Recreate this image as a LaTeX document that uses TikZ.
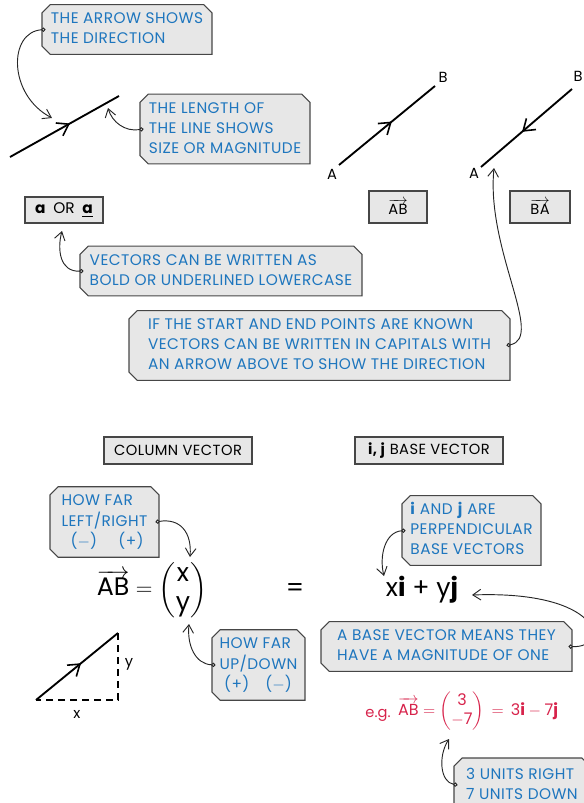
\documentclass[tikz,border=0pt]{standalone}
\usepackage{fontspec}
\usepackage{amsmath}
\setmainfont{Poppins}
\newfontfamily\notefont{Poppins}[LetterSpace=3]
\usetikzlibrary{arrows.meta,shapes.misc,decorations.markings}

\definecolor{noteblue}{RGB}{30,118,190}
\definecolor{tagfill}{RGB}{231,231,231}
\definecolor{tagline}{RGB}{70,70,70}
\definecolor{egred}{RGB}{215,35,75}

\newcommand{\arrowvec}[1]{$\overrightarrow{\hbox{#1}}$}
\newcommand{\notelines}[1]{\begin{tabular}{@{}l@{}}#1\end{tabular}}

\tikzset{
    note/.style={chamfered rectangle, chamfered rectangle corners={north west,south west,north east},
        chamfered rectangle xsep=2.5pt, draw=tagline, fill=tagfill, line width=0.8pt,
        inner sep=0pt, text=noteblue, font=\notefont\fontsize{11.5}{15}\selectfont},
    tagbox/.style={rectangle, draw=tagline, fill=tagfill, line width=0.8pt, inner sep=0pt,
        font=\notefont\fontsize{11}{12}\selectfont},
    conn/.style={line width=0.7pt, black!85,
        arrows={Circle[length=3.2pt,fill=tagfill]-Straight Barb[length=6pt,width=8pt]}},
    vecline/.style={line width=1.4pt, postaction={decorate},
        decoration={markings, mark=at position 0.55 with {\arrow{Straight Barb[length=8pt,width=11pt,line width=1.2pt]}}}},
    ptlabel/.style={inner sep=0pt, font=\fontsize{11}{13}\selectfont}
}

\begin{document}
\begin{tikzpicture}[x=0.75pt,y=-0.75pt]
    \useasboundingbox (0,0) rectangle (583,803);

    % top: one vector and its two notes
    \coordinate (s0) at (10,157);
    \coordinate (s1) at (119,96);
    \draw[vecline] (s0) -- (s1);
    \node[note, minimum width=127.5pt, minimum height=33.75pt] (dirnote) at (127,29.5)
        {\notelines{THE ARROW SHOWS\\THE DIRECTION}};
    \node[note, minimum width=127.5pt, minimum height=48pt] (lennote) at (225,129)
        {\notelines{THE LENGTH OF\\THE LINE SHOWS\\SIZE OR MAGNITUDE}};
    \coordinate (dirtip) at (52,118);
    \coordinate (lentip) at (108,108);
    \draw[conn] ([xshift=3pt]dirnote.west) .. controls (8,32) and (8,95) .. (dirtip);
    \draw[conn] ([xshift=3pt]lennote.west) .. controls (125,132) and (112,122) .. (lentip);

    % AB and BA
    \node[ptlabel] (abA) at (332,174) {A};
    \node[ptlabel] (abB) at (443,77) {B};
    \coordinate (ab0) at (339,165);
    \coordinate (ab1) at (435,86);
    \draw[vecline] (ab0) -- (ab1);
    \node[ptlabel] (baA) at (474,173) {A};
    \node[ptlabel] (baB) at (578,76) {B};
    \coordinate (ba0) at (572,89);
    \coordinate (ba1) at (481,167);
    \draw[vecline] (ba0) -- (ba1);
    \node[tagbox, minimum width=43.5pt, minimum height=24pt] (abbox) at (398,207) {\arrowvec{AB}};
    \node[tagbox, minimum width=45pt, minimum height=24pt] (babox) at (540,207) {\arrowvec{BA}};

    % lowercase
    \node[tagbox, minimum width=58.5pt, minimum height=19.5pt, font=\fontsize{11.5}{13}\selectfont] (lowbox)
        at (64,210) {\textbf{a}\enspace OR\enspace\underline{\textbf{a}}};
    \node[note, minimum width=211.5pt, minimum height=31.5pt] (lownote) at (221,271)
        {\notelines{VECTORS CAN BE WRITTEN AS\\BOLD OR UNDERLINED LOWERCASE}};
    \coordinate (lowtip) at (62,231);
    \draw[conn] ([xshift=3pt]lownote.west) .. controls (60,272) and (57,250) .. (lowtip);

    \node[note, minimum width=285.75pt, minimum height=48.75pt] (capnote) at (319.5,345.5)
        {\notelines{IF THE START AND END POINTS ARE KNOWN\\VECTORS CAN BE WRITTEN IN CAPITALS WITH\\AN ARROW ABOVE TO SHOW THE DIRECTION}};
    \coordinate (captip) at (494,168);
    \draw[conn] ([xshift=-3pt]capnote.east) .. controls (545,338) and (486,250) .. (captip);

    % column vector and base vectors
    \node[tagbox, minimum width=111pt, minimum height=20.25pt] (colbox) at (178,450.5) {COLUMN VECTOR};
    \node[tagbox, minimum width=111pt, minimum height=20.25pt] (basebox) at (429,450.5) {\textbf{i, j} BASE VECTOR};

    \node[font=\fontsize{19}{22}\selectfont] (coleq) at (152,590)
        {$\overrightarrow{\hbox{AB}} = \begin{pmatrix}\text{x}\\ \text{y}\end{pmatrix}$};
    \node[font=\fontsize{19}{22}\selectfont] (eqsign) at (295,590) {=};
    \node[font=\fontsize{19}{22}\selectfont] (ijsum) at (422,590) {x\textbf{i} + y\textbf{j}};

    \node[note, minimum width=81.75pt, minimum height=48pt] (lrnote) at (104.5,522)
        {\notelines{HOW FAR\\LEFT/RIGHT\\\ \ ($-$)\hspace{16pt}(+)}};
    \node[note, minimum width=69.75pt, minimum height=49.5pt] (udnote) at (258.5,665)
        {\notelines{HOW FAR\\UP/DOWN\\\ (+)\hspace{12pt}($-$)}};
    \coordinate (lrtip) at (190,557);
    \coordinate (udtip) at (189,624);
    \draw[conn] ([xshift=-3pt]lrnote.east) .. controls (180,518) and (192,532) .. (lrtip);
    \draw[conn] ([xshift=3pt]udnote.west) .. controls (195,664) and (187,645) .. (udtip);

    \node[note, minimum width=104.25pt, minimum height=47.25pt] (ijnote) at (471.5,530.5)
        {\notelines{\textbf{i} AND \textbf{j} ARE\\PERPENDICULAR\\BASE VECTORS}};
    \node[note, minimum width=188.25pt, minimum height=32.25pt] (onenote) at (446.5,646.5)
        {\notelines{A BASE VECTOR MEANS THEY\\HAVE A MAGNITUDE OF ONE}};
    \coordinate (ijtip) at (384,576);
    \coordinate (onetip) at (472,595);
    \draw[conn] ([xshift=3pt]ijnote.west) .. controls (385,532) and (379,556) .. (ijtip);
    \draw[conn] ([xshift=-3pt]onenote.east) .. controls (612,648) and (602,590) .. (onetip);

    % x and y parts
    \coordinate (t0) at (36,700);
    \coordinate (t1) at (118,633);
    \coordinate (t2) at (118,700);
    \draw[vecline] (t0) -- (t1);
    \draw[line width=1.1pt, dash pattern=on 5.5pt off 3.5pt] (t1) -- (t2) -- (t0);
    \node[ptlabel] (tx) at (77,714) {x};
    \node[ptlabel] (ty) at (129,664) {y};

    % example
    \node[text=egred, font=\fontsize{11}{13}\selectfont] (egtag) at (378,715) {e.g.};
    \node[text=egred, font=\fontsize{12}{14}\selectfont] (egeq) at (478,711)
        {$\overrightarrow{\hbox{AB}} = \begin{pmatrix}\text{3}\\ -\text{7}\end{pmatrix} \,=\, \text{3\textbf{i}} - \text{7\textbf{j}}$};
    \node[note, minimum width=102pt, minimum height=40.5pt] (unitnote) at (522,785)
        {\notelines{3 UNITS RIGHT\\7 UNITS DOWN}};
    \coordinate (unittip) at (449,739);
    \draw[conn] ([xshift=3pt]unitnote.west) .. controls (440,782) and (438,756) .. (unittip);
\end{tikzpicture}
\end{document}
